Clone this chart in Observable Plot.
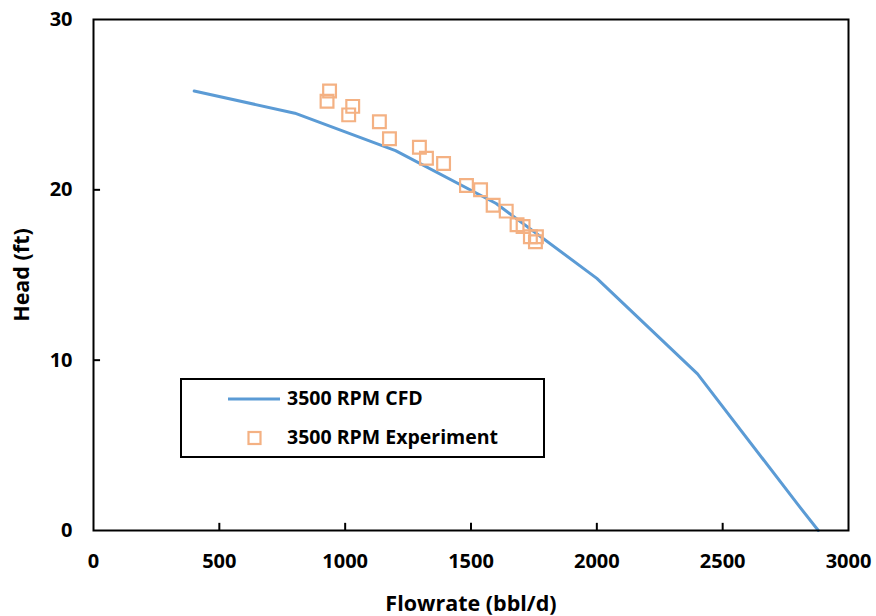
<!DOCTYPE html>
<html>
<head>
<meta charset="utf-8">
<script src="https://cdn.jsdelivr.net/npm/d3@7"></script>
<script src="https://cdn.jsdelivr.net/npm/@observablehq/plot@0.6"></script>
<style>
  html, body { margin: 0; padding: 0; background: #fff; }
  #wrap { position: relative; width: 876px; height: 616px; font-family: "Open Sans", Lato, sans-serif; }
  #legend { position: absolute; left: 180px; top: 378px; width: 361px; height: 76px; border: 2px solid #000; background: #fff; }
  .lg { position: absolute; left: 105px; font-weight: bold; font-size: 19.5px; color: #000; line-height: 22px; white-space: nowrap; }
</style>
</head>
<body>
<div id="wrap"></div>
<script>
// CFD curve
const cfdFlow = [400, 800, 1200, 1600, 2000, 2400, 2800, 2880];
const cfdHead = [25.8, 24.5, 22.3, 19.2, 14.8, 9.2, 1.5, 0];
// Experiment points
const expFlow = [938, 928, 1030, 1014, 1136, 1176, 1295, 1323, 1391, 1482, 1538, 1588, 1640, 1683, 1707, 1736, 1760, 1756];
const expHead = [25.8, 25.2, 24.9, 24.4, 24.0, 23.0, 22.5, 21.85, 21.55, 20.25, 20.0, 19.1, 18.75, 17.95, 17.85, 17.25, 17.25, 16.95];
const xTicks = [0, 500, 1000, 1500, 2000, 2500, 3000];
const yTicks = [0, 10, 20, 30];
const seriesNames = ["3500 RPM CFD", "3500 RPM Experiment"];
const lineColor = "#5B9BD5";
const markColor = "#F4B183";

const cfd = cfdFlow.map((x, i) => ({x, y: cfdHead[i]}));
const exp = expFlow.map((x, i) => ({x, y: expHead[i]}));

const chart = Plot.plot({
  width: 876,
  height: 616,
  marginLeft: 93,
  marginRight: 28,
  marginTop: 19,
  marginBottom: 86,
  style: {fontFamily: "'Open Sans', Lato, sans-serif", fontWeight: "bold", color: "#000", background: "#fff", overflow: "visible"},
  x: {domain: [0, 3000]},
  y: {domain: [0, 30]},
  marks: [
    Plot.ruleX(xTicks.slice(1, -1), {y1: 0, y2: 0.42, stroke: "#000", strokeWidth: 2}),
    Plot.ruleY(yTicks.slice(1, -1), {x1: 0, x2: 28, stroke: "#000", strokeWidth: 2}),
    Plot.line(cfd, {x: "x", y: "y", stroke: lineColor, strokeWidth: 3}),
    Plot.dot(exp, {x: "x", y: "y", symbol: "square", r: 7.2, stroke: markColor, strokeWidth: 2.2, fill: "none"}),
    Plot.frame({stroke: "#000", strokeWidth: 2}),
    Plot.axisX({ticks: xTicks, tickFormat: d => String(d), tickSize: 0, tickPadding: 23, fontSize: 20, fontWeight: "bold",
      label: "Flowrate (bbl/d)", labelAnchor: "center", labelOffset: 80, labelArrow: "none"}),
    Plot.axisY({ticks: yTicks, tickFormat: d => String(d), tickSize: 0, tickPadding: 21, fontSize: 20, fontWeight: "bold",
      label: "Head (ft)", labelAnchor: "center", labelOffset: 80, labelArrow: "none"})
  ]
});
chart.querySelectorAll("g[aria-label='x-axis label'] text, g[aria-label='y-axis label'] text").forEach(t => {
  t.setAttribute("font-size", "21.5");
  t.style.fontSize = "21.5px";
});
const wrap = document.getElementById("wrap");
wrap.appendChild(chart);

const legend = document.createElement("div");
legend.id = "legend";
legend.innerHTML = `
  <svg width="361" height="76" style="position:absolute;left:0;top:0">
    <line x1="46" x2="98" y1="19" y2="19" stroke="${lineColor}" stroke-width="3"/>
    <rect x="66.5" y="52" width="12" height="12" fill="none" stroke="${markColor}" stroke-width="2.2"/>
  </svg>
  <div class="lg" style="top:7px">${seriesNames[0]}</div>
  <div class="lg" style="top:46px">${seriesNames[1]}</div>`;
wrap.appendChild(legend);
</script>
</body>
</html>
